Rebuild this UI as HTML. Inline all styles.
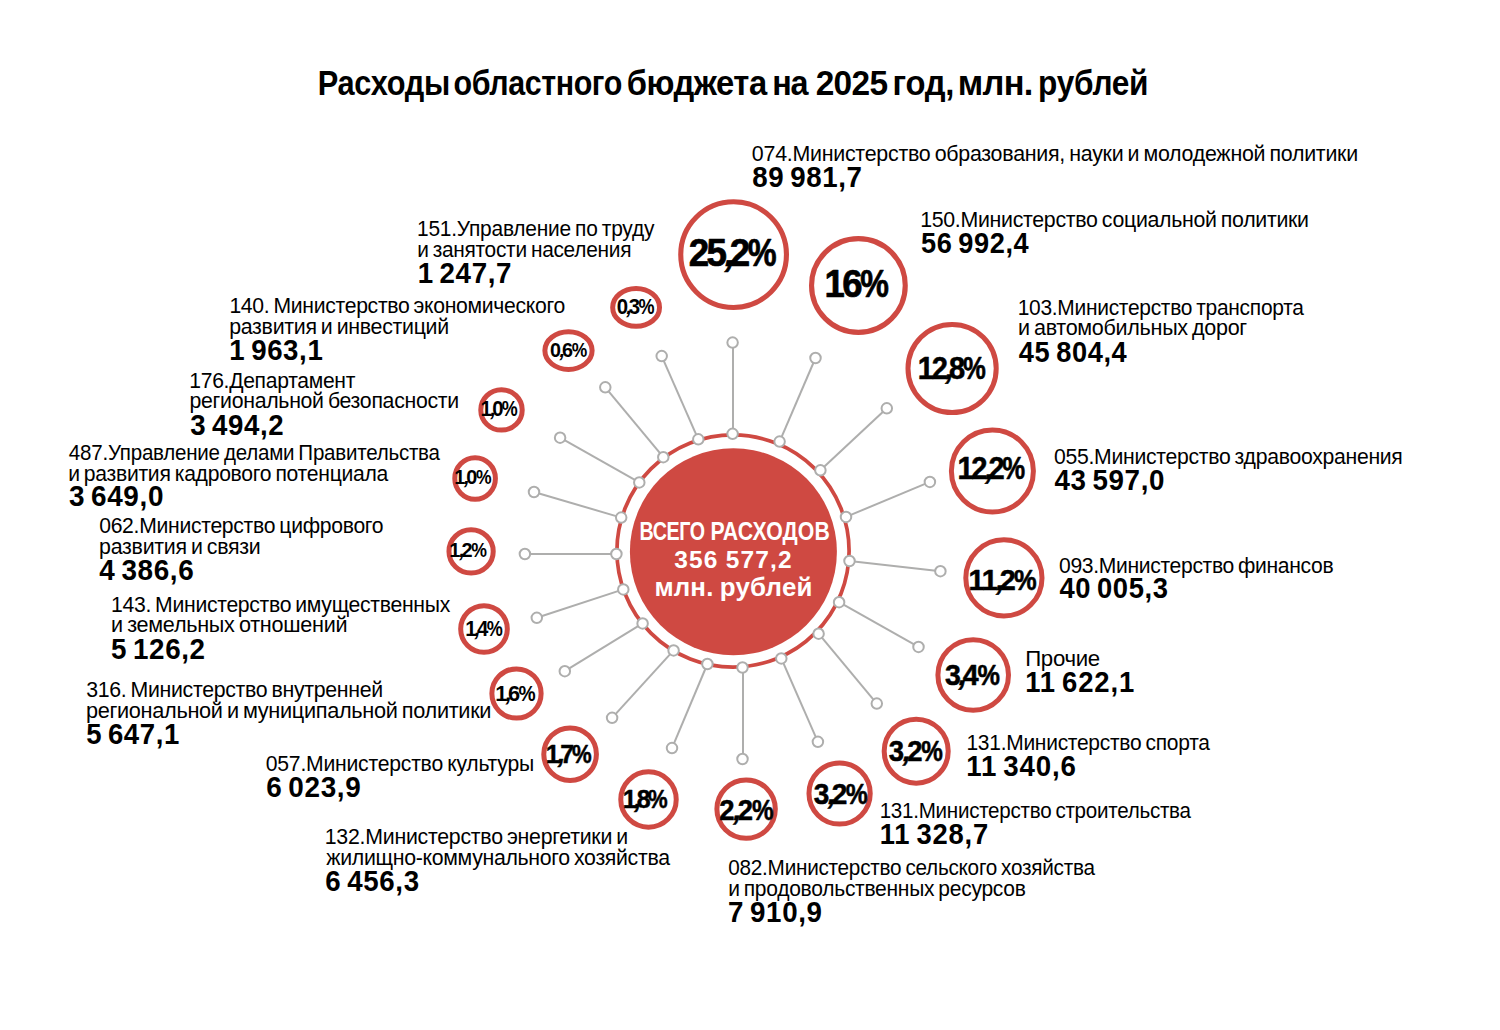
<!DOCTYPE html>
<html lang="ru"><head><meta charset="utf-8"><title>Расходы областного бюджета на 2025 год</title>
<style>html,body{margin:0;padding:0;background:#fff;}body{width:1500px;height:1030px;overflow:hidden;font-family:"Liberation Sans",sans-serif;}svg{display:block;}text{font-family:"Liberation Sans",sans-serif;fill:#000;white-space:pre;}.b{font-weight:bold;}</style></head><body>
<svg width="1500" height="1030" viewBox="0 0 1500 1030">
<rect width="1500" height="1030" fill="#fff"/>
<text class="b" transform="translate(317.74,95.20) scale(0.8912,1)" font-size="34.50" textLength="148.69" lengthAdjust="spacing">Расходы</text>
<text class="b" transform="translate(453.61,95.20) scale(0.8818,1)" font-size="34.50" textLength="191.27" lengthAdjust="spacing">областного</text>
<text class="b" transform="translate(626.69,95.20) scale(0.9487,1)" font-size="34.50" textLength="148.00" lengthAdjust="spacing">бюджета</text>
<text class="b" transform="translate(772.14,95.20) scale(0.9371,1)" font-size="34.50" textLength="38.92" lengthAdjust="spacing">на</text>
<text class="b" transform="translate(815.73,95.20) scale(0.9696,1)" font-size="34.50" textLength="74.58" lengthAdjust="spacing">2025</text>
<text class="b" transform="translate(892.61,95.20) scale(0.9487,1)" font-size="34.50" textLength="65.12" lengthAdjust="spacing">год,</text>
<text class="b" transform="translate(957.79,95.20) scale(0.9980,1)" font-size="34.50" textLength="75.73" lengthAdjust="spacing">млн.</text>
<text class="b" transform="translate(1038.11,95.20) scale(0.9168,1)" font-size="34.50" textLength="120.41" lengthAdjust="spacing">рублей</text>
<g stroke="#AEAEAD" stroke-width="2.0" fill="none">
<line x1="733.0" y1="433.8" x2="733.0" y2="342.6"/>
<line x1="779.6" y1="441.6" x2="815.5" y2="358.0"/>
<line x1="820.4" y1="470.3" x2="886.8" y2="408.3"/>
<line x1="846.0" y1="516.9" x2="929.9" y2="481.9"/>
<line x1="849.5" y1="561.0" x2="940.4" y2="571.2"/>
<line x1="839.1" y1="602.2" x2="918.5" y2="646.9"/>
<line x1="818.6" y1="633.7" x2="876.8" y2="703.6"/>
<line x1="781.3" y1="658.4" x2="817.9" y2="741.8"/>
<line x1="743.0" y1="667.5" x2="743.0" y2="759.0"/>
<line x1="707.4" y1="664.0" x2="672.0" y2="748.1"/>
<line x1="673.6" y1="650.4" x2="612.1" y2="717.8"/>
<line x1="642.6" y1="623.4" x2="564.8" y2="671.2"/>
<line x1="623.3" y1="589.4" x2="536.8" y2="617.8"/>
<line x1="616.4" y1="554.0" x2="524.9" y2="554.0"/>
<line x1="621.2" y1="517.6" x2="534.0" y2="492.0"/>
<line x1="639.3" y1="482.4" x2="560.1" y2="437.7"/>
<line x1="663.3" y1="457.2" x2="605.3" y2="387.3"/>
<line x1="698.3" y1="439.3" x2="661.7" y2="356.1"/>
</g>
<circle cx="733.0" cy="551.0" r="116.1" fill="none" stroke="#CF4942" stroke-width="3.7"/>
<circle cx="733.4" cy="551.8" r="103.5" fill="#CF4942"/>
<g stroke="#AEAEAD" stroke-width="2.0" fill="#fff">
<circle cx="732.6" cy="433.8" r="5.25"/><circle cx="732.6" cy="342.6" r="5.25"/>
<circle cx="779.6" cy="441.6" r="5.25"/><circle cx="815.5" cy="358.0" r="5.25"/>
<circle cx="820.4" cy="470.3" r="5.25"/><circle cx="886.8" cy="408.3" r="5.25"/>
<circle cx="846.0" cy="516.9" r="5.25"/><circle cx="929.9" cy="481.9" r="5.25"/>
<circle cx="849.5" cy="561.0" r="5.25"/><circle cx="940.4" cy="571.2" r="5.25"/>
<circle cx="839.1" cy="602.2" r="5.25"/><circle cx="918.5" cy="646.9" r="5.25"/>
<circle cx="818.6" cy="633.7" r="5.25"/><circle cx="876.8" cy="703.6" r="5.25"/>
<circle cx="781.3" cy="658.4" r="5.25"/><circle cx="817.9" cy="741.8" r="5.25"/>
<circle cx="742.5" cy="667.5" r="5.25"/><circle cx="742.5" cy="759.0" r="5.25"/>
<circle cx="707.4" cy="664.0" r="5.25"/><circle cx="672.0" cy="748.1" r="5.25"/>
<circle cx="673.6" cy="650.4" r="5.25"/><circle cx="612.1" cy="717.8" r="5.25"/>
<circle cx="642.6" cy="623.4" r="5.25"/><circle cx="564.8" cy="671.2" r="5.25"/>
<circle cx="623.3" cy="589.4" r="5.25"/><circle cx="536.8" cy="617.8" r="5.25"/>
<circle cx="616.4" cy="554.0" r="5.25"/><circle cx="524.9" cy="554.0" r="5.25"/>
<circle cx="621.2" cy="517.6" r="5.25"/><circle cx="534.0" cy="492.0" r="5.25"/>
<circle cx="639.3" cy="482.4" r="5.25"/><circle cx="560.1" cy="437.7" r="5.25"/>
<circle cx="663.3" cy="457.2" r="5.25"/><circle cx="605.3" cy="387.3" r="5.25"/>
<circle cx="698.3" cy="439.3" r="5.25"/><circle cx="661.7" cy="356.1" r="5.25"/>
</g>
<text class="b" style="fill:#fff" transform="translate(639.58,539.70) scale(0.7800,1)" font-size="25.20" textLength="83.90" lengthAdjust="spacing">ВСЕГО</text>
<text class="b" style="fill:#fff" transform="translate(710.47,539.70) scale(0.8447,1)" font-size="25.20" textLength="141.22" lengthAdjust="spacing">РАСХОДОВ</text>
<text class="b" style="fill:#fff" transform="translate(674.24,567.80) scale(1.0000,1)" font-size="24.50" textLength="117.45" lengthAdjust="spacing" word-spacing="-1.00">356 577,2</text>
<text class="b" style="fill:#fff" transform="translate(654.39,595.90) scale(1.0000,1)" font-size="25.90" textLength="158.02" lengthAdjust="spacing" word-spacing="-1.00">млн. рублей</text>
<ellipse cx="733.6" cy="254.6" rx="52.85" ry="52.85" fill="#fff" stroke="#CF4942" stroke-width="5.1"/>
<g class="b" font-size="38.68" stroke="#000" stroke-width="0.70" stroke-linejoin="round"><text transform="translate(688.81,266.10) scale(0.950,1)">2</text><text transform="translate(706.49,266.10) scale(0.950,1)">5</text><text transform="translate(723.12,266.10) skewX(-13)">,</text><text transform="translate(729.85,266.10) scale(0.950,1)">2</text><text transform="translate(747.86,266.10) scale(0.840,1)">%</text></g>
<ellipse cx="858.4" cy="285.5" rx="46.85" ry="46.85" fill="#fff" stroke="#CF4942" stroke-width="5.1"/>
<g class="b" font-size="38.40" stroke="#000" stroke-width="0.69" stroke-linejoin="round"><text transform="translate(824.50,297.00) scale(0.950,1)">1</text><text transform="translate(842.21,297.00) scale(0.950,1)">6</text><text transform="translate(860.17,297.00) scale(0.840,1)">%</text></g>
<ellipse cx="952.1" cy="368.5" rx="44.10" ry="44.10" fill="#fff" stroke="#CF4942" stroke-width="5.0"/>
<g class="b" font-size="30.59" stroke="#000" stroke-width="0.55" stroke-linejoin="round"><text transform="translate(917.87,379.05) scale(0.950,1)">1</text><text transform="translate(931.64,379.05) scale(0.950,1)">2</text><text transform="translate(944.00,379.05) skewX(-13)">,</text><text transform="translate(948.97,379.05) scale(0.950,1)">8</text><text transform="translate(963.03,379.05) scale(0.840,1)">%</text></g>
<ellipse cx="992.4" cy="471.0" rx="41.00" ry="41.00" fill="#fff" stroke="#CF4942" stroke-width="5.0"/>
<g class="b" font-size="30.66" stroke="#000" stroke-width="0.55" stroke-linejoin="round"><text transform="translate(957.47,479.15) scale(0.950,1)">1</text><text transform="translate(971.27,479.15) scale(0.950,1)">2</text><text transform="translate(983.65,479.15) skewX(-13)">,</text><text transform="translate(988.55,479.15) scale(0.950,1)">2</text><text transform="translate(1002.37,479.15) scale(0.840,1)">%</text></g>
<ellipse cx="1003.9" cy="577.9" rx="38.10" ry="38.10" fill="#fff" stroke="#CF4942" stroke-width="5.0"/>
<g class="b" font-size="30.37" stroke="#000" stroke-width="0.55" stroke-linejoin="round"><text transform="translate(968.58,589.75) scale(0.950,1)">1</text><text transform="translate(981.77,589.75) scale(0.950,1)">1</text><text transform="translate(994.70,589.75) skewX(-13)">,</text><text transform="translate(999.87,589.75) scale(0.950,1)">2</text><text transform="translate(1013.88,589.75) scale(0.840,1)">%</text></g>
<ellipse cx="973.2" cy="675.0" rx="35.30" ry="35.30" fill="#fff" stroke="#CF4942" stroke-width="5.0"/>
<g class="b" font-size="30.09" stroke="#000" stroke-width="0.54" stroke-linejoin="round"><text transform="translate(945.04,685.00) scale(0.950,1)">3</text><text transform="translate(957.36,685.00) skewX(-13)">,</text><text transform="translate(962.78,685.00) scale(0.950,1)">4</text><text transform="translate(977.39,685.00) scale(0.840,1)">%</text></g>
<ellipse cx="916.2" cy="751.2" rx="32.02" ry="32.02" fill="#fff" stroke="#CF4942" stroke-width="5.0"/>
<g class="b" font-size="28.94" stroke="#000" stroke-width="0.52" stroke-linejoin="round"><text transform="translate(888.77,760.60) scale(0.950,1)">3</text><text transform="translate(901.60,760.60) skewX(-13)">,</text><text transform="translate(907.24,760.60) scale(0.950,1)">2</text><text transform="translate(921.32,760.60) scale(0.840,1)">%</text></g>
<ellipse cx="839.6" cy="793.5" rx="30.62" ry="30.62" fill="#fff" stroke="#CF4942" stroke-width="5.0"/>
<g class="b" font-size="29.51" stroke="#000" stroke-width="0.53" stroke-linejoin="round"><text transform="translate(813.76,803.50) scale(0.950,1)">3</text><text transform="translate(826.42,803.50) skewX(-13)">,</text><text transform="translate(831.76,803.50) scale(0.950,1)">2</text><text transform="translate(845.71,803.50) scale(0.840,1)">%</text></g>
<ellipse cx="746.1" cy="809.1" rx="29.22" ry="29.22" fill="#fff" stroke="#CF4942" stroke-width="5.0"/>
<g class="b" font-size="28.94" stroke="#000" stroke-width="0.52" stroke-linejoin="round"><text transform="translate(719.24,820.15) scale(0.950,1)">2</text><text transform="translate(732.04,820.15) skewX(-13)">,</text><text transform="translate(737.76,820.15) scale(0.950,1)">2</text><text transform="translate(751.92,820.15) scale(0.840,1)">%</text></g>
<ellipse cx="648.5" cy="799.5" rx="27.72" ry="27.72" fill="#fff" stroke="#CF4942" stroke-width="5.0"/>
<g class="b" font-size="26.36" stroke="#000" stroke-width="0.47" stroke-linejoin="round"><text transform="translate(622.82,807.70) scale(0.950,1)">1</text><text transform="translate(633.08,807.70) skewX(-13)">,</text><text transform="translate(636.67,807.70) scale(0.950,1)">8</text><text transform="translate(648.09,807.70) scale(0.840,1)">%</text></g>
<ellipse cx="570.1" cy="754.2" rx="26.32" ry="26.32" fill="#fff" stroke="#CF4942" stroke-width="5.0"/>
<g class="b" font-size="26.36" stroke="#000" stroke-width="0.47" stroke-linejoin="round"><text transform="translate(545.82,762.50) scale(0.950,1)">1</text><text transform="translate(556.55,762.50) skewX(-13)">,</text><text transform="translate(560.33,762.50) scale(0.950,1)">7</text><text transform="translate(571.89,762.50) scale(0.840,1)">%</text></g>
<ellipse cx="516.5" cy="693.5" rx="24.62" ry="24.62" fill="#fff" stroke="#CF4942" stroke-width="5.0"/>
<g class="b" font-size="22.92" stroke="#000" stroke-width="0.00" stroke-linejoin="round"><text transform="translate(495.23,700.80) scale(0.950,1)">1</text><text transform="translate(504.61,700.80) skewX(-13)">,</text><text transform="translate(508.09,700.80) scale(0.950,1)">6</text><text transform="translate(518.38,700.80) scale(0.840,1)">%</text></g>
<ellipse cx="484.0" cy="629.0" rx="23.32" ry="23.32" fill="#fff" stroke="#CF4942" stroke-width="5.0"/>
<g class="b" font-size="21.49" stroke="#000" stroke-width="0.00" stroke-linejoin="round"><text transform="translate(465.21,635.80) scale(0.950,1)">1</text><text transform="translate(473.62,635.80) skewX(-13)">,</text><text transform="translate(476.94,635.80) scale(0.950,1)">4</text><text transform="translate(486.82,635.80) scale(0.840,1)">%</text></g>
<ellipse cx="471.1" cy="551.4" rx="22.12" ry="21.62" fill="#fff" stroke="#CF4942" stroke-width="5.0"/>
<g class="b" font-size="21.06" stroke="#000" stroke-width="0.00" stroke-linejoin="round"><text transform="translate(449.34,556.80) scale(0.950,1)">1</text><text transform="translate(458.15,556.80) skewX(-13)">,</text><text transform="translate(461.57,556.80) scale(0.950,1)">2</text><text transform="translate(471.13,556.80) scale(0.840,1)">%</text></g>
<ellipse cx="475.1" cy="478.5" rx="20.32" ry="20.72" fill="#fff" stroke="#CF4942" stroke-width="5.0"/>
<g class="b" font-size="20.92" stroke="#000" stroke-width="0.00" stroke-linejoin="round"><text transform="translate(454.15,483.90) scale(0.950,1)">1</text><text transform="translate(462.99,483.90) skewX(-13)">,</text><text transform="translate(466.37,483.90) scale(0.950,1)">0</text><text transform="translate(475.94,483.90) scale(0.840,1)">%</text></g>
<ellipse cx="501.5" cy="409.9" rx="20.72" ry="20.22" fill="#fff" stroke="#CF4942" stroke-width="5.0"/>
<g class="b" font-size="21.35" stroke="#000" stroke-width="0.00" stroke-linejoin="round"><text transform="translate(480.62,415.70) scale(0.950,1)">1</text><text transform="translate(489.23,415.70) skewX(-13)">,</text><text transform="translate(492.28,415.70) scale(0.950,1)">0</text><text transform="translate(501.63,415.70) scale(0.840,1)">%</text></g>
<ellipse cx="568.5" cy="350.6" rx="23.62" ry="18.82" fill="#fff" stroke="#CF4942" stroke-width="5.0"/>
<g class="b" font-size="20.77" stroke="#000" stroke-width="0.00" stroke-linejoin="round"><text transform="translate(549.91,356.80) scale(0.950,1)">0</text><text transform="translate(558.56,356.80) skewX(-13)">,</text><text transform="translate(562.11,356.80) scale(0.950,1)">6</text><text transform="translate(571.84,356.80) scale(0.840,1)">%</text></g>
<ellipse cx="636.1" cy="307.4" rx="23.42" ry="18.88" fill="#fff" stroke="#CF4942" stroke-width="5.0"/>
<g class="b" font-size="21.49" stroke="#000" stroke-width="0.00" stroke-linejoin="round"><text transform="translate(616.78,313.90) scale(0.950,1)">0</text><text transform="translate(625.32,313.90) skewX(-13)">,</text><text transform="translate(628.87,313.90) scale(0.950,1)">3</text><text transform="translate(638.52,313.90) scale(0.840,1)">%</text></g>
<text transform="translate(751.86,160.80) scale(0.9778,1)" font-size="21.90" textLength="620.07" lengthAdjust="spacing" word-spacing="-1.50">074.Министерство образования, науки и молодежной политики</text>
<text class="b" transform="translate(752.31,186.90) scale(0.9582,1)" font-size="28.90" textLength="114.49" lengthAdjust="spacing" word-spacing="-2.50">89 981,7</text>
<text transform="translate(920.18,226.70) scale(0.9750,1)" font-size="21.90" textLength="398.78" lengthAdjust="spacing" word-spacing="-1.50">150.Министерство социальной политики</text>
<text class="b" transform="translate(920.96,252.50) scale(0.9410,1)" font-size="28.90" textLength="114.54" lengthAdjust="spacing" word-spacing="-2.50">56 992,4</text>
<text transform="translate(1017.71,314.60) scale(0.9569,1)" font-size="21.90" textLength="299.09" lengthAdjust="spacing" word-spacing="-1.50">103.Министерство транспорта</text>
<text transform="translate(1018.01,335.30) scale(0.9846,1)" font-size="21.90" textLength="232.81" lengthAdjust="spacing" word-spacing="-1.50">и автомобильных дорог</text>
<text class="b" transform="translate(1018.79,361.70) scale(0.9423,1)" font-size="28.90" textLength="114.56" lengthAdjust="spacing" word-spacing="-2.50">45 804,4</text>
<text transform="translate(1053.97,463.80) scale(0.9682,1)" font-size="21.90" textLength="360.35" lengthAdjust="spacing" word-spacing="-1.50">055.Министерство здравоохранения</text>
<text class="b" transform="translate(1054.38,490.15) scale(0.9611,1)" font-size="28.90" textLength="114.52" lengthAdjust="spacing" word-spacing="-2.50">43 597,0</text>
<text transform="translate(1059.08,572.60) scale(0.9632,1)" font-size="21.90" textLength="285.04" lengthAdjust="spacing" word-spacing="-1.50">093.Министерство финансов</text>
<text class="b" transform="translate(1059.49,598.30) scale(0.9474,1)" font-size="28.90" textLength="114.52" lengthAdjust="spacing" word-spacing="-2.50">40 005,3</text>
<text transform="translate(1025.20,666.40) scale(1.0162,1)" font-size="21.90" textLength="73.79" lengthAdjust="spacing" word-spacing="-1.50">Прочие</text>
<text class="b" transform="translate(1025.27,692.20) scale(0.9514,1)" font-size="28.90" textLength="114.47" lengthAdjust="spacing" word-spacing="-2.50">11 622,1</text>
<text transform="translate(966.40,749.90) scale(0.9592,1)" font-size="21.90" textLength="253.96" lengthAdjust="spacing" word-spacing="-1.50">131.Министерство спорта</text>
<text class="b" transform="translate(966.25,775.90) scale(0.9588,1)" font-size="28.90" textLength="114.46" lengthAdjust="spacing" word-spacing="-2.50">11 340,6</text>
<text transform="translate(879.63,817.80) scale(0.9406,1)" font-size="21.90" textLength="331.04" lengthAdjust="spacing" word-spacing="-1.50">131.Министерство строительства</text>
<text class="b" transform="translate(879.78,843.70) scale(0.9474,1)" font-size="28.90" textLength="114.46" lengthAdjust="spacing" word-spacing="-2.50">11 328,7</text>
<text transform="translate(728.29,874.70) scale(0.9466,1)" font-size="21.90" textLength="387.40" lengthAdjust="spacing" word-spacing="-1.50">082.Министерство сельского хозяйства</text>
<text transform="translate(728.15,895.60) scale(0.9598,1)" font-size="21.90" textLength="310.23" lengthAdjust="spacing" word-spacing="-1.50">и продовольственных ресурсов</text>
<text class="b" transform="translate(728.11,921.60) scale(0.9599,1)" font-size="28.90" textLength="97.75" lengthAdjust="spacing" word-spacing="-2.50">7 910,9</text>
<text transform="translate(324.78,843.90) scale(0.9737,1)" font-size="21.90" textLength="311.59" lengthAdjust="spacing" word-spacing="-1.50">132.Министерство энергетики и</text>
<text transform="translate(326.31,864.60) scale(0.9729,1)" font-size="21.90" textLength="353.26" lengthAdjust="spacing" word-spacing="-1.50">жилищно-коммунального хозяйства</text>
<text class="b" transform="translate(325.37,890.50) scale(0.9588,1)" font-size="28.90" textLength="97.75" lengthAdjust="spacing" word-spacing="-2.50">6 456,3</text>
<text transform="translate(265.77,770.60) scale(0.9672,1)" font-size="21.90" textLength="277.52" lengthAdjust="spacing" word-spacing="-1.50">057.Министерство культуры</text>
<text class="b" transform="translate(266.27,796.70) scale(0.9664,1)" font-size="28.90" textLength="97.75" lengthAdjust="spacing" word-spacing="-2.50">6 023,9</text>
<text transform="translate(86.19,696.80) scale(0.9727,1)" font-size="21.90" textLength="305.32" lengthAdjust="spacing" word-spacing="-1.50">316. Министерство внутренней</text>
<text transform="translate(85.89,717.60) scale(0.9929,1)" font-size="21.90" textLength="408.53" lengthAdjust="spacing" word-spacing="-1.50">региональной и муниципальной политики</text>
<text class="b" transform="translate(86.15,743.70) scale(0.9525,1)" font-size="28.90" textLength="97.77" lengthAdjust="spacing" word-spacing="-2.50">5 647,1</text>
<text transform="translate(110.99,611.50) scale(0.9682,1)" font-size="21.90" textLength="350.40" lengthAdjust="spacing" word-spacing="-1.50">143. Министерство имущественных</text>
<text transform="translate(111.11,632.30) scale(0.9869,1)" font-size="21.90" textLength="239.54" lengthAdjust="spacing" word-spacing="-1.50">и земельных отношений</text>
<text class="b" transform="translate(111.04,658.60) scale(0.9613,1)" font-size="28.90" textLength="97.76" lengthAdjust="spacing" word-spacing="-2.50">5 126,2</text>
<text transform="translate(99.18,532.70) scale(0.9657,1)" font-size="21.90" textLength="294.51" lengthAdjust="spacing" word-spacing="-1.50">062.Министерство цифрового</text>
<text transform="translate(99.11,553.60) scale(0.9755,1)" font-size="21.90" textLength="165.64" lengthAdjust="spacing" word-spacing="-1.50">развития и связи</text>
<text class="b" transform="translate(99.28,579.60) scale(0.9657,1)" font-size="28.90" textLength="97.78" lengthAdjust="spacing" word-spacing="-2.50">4 386,6</text>
<text transform="translate(68.83,459.60) scale(0.9384,1)" font-size="21.90" textLength="395.55" lengthAdjust="spacing" word-spacing="-1.50">487.Управление делами Правительства</text>
<text transform="translate(68.14,480.60) scale(0.9654,1)" font-size="21.90" textLength="331.62" lengthAdjust="spacing" word-spacing="-1.50">и развития кадрового потенциала</text>
<text class="b" transform="translate(68.96,506.30) scale(0.9665,1)" font-size="28.90" textLength="97.76" lengthAdjust="spacing" word-spacing="-2.50">3 649,0</text>
<text transform="translate(189.30,387.60) scale(0.9637,1)" font-size="21.90" textLength="172.32" lengthAdjust="spacing" word-spacing="-1.50">176.Департамент</text>
<text transform="translate(189.52,408.00) scale(0.9718,1)" font-size="21.90" textLength="277.50" lengthAdjust="spacing" word-spacing="-1.50">региональной безопасности</text>
<text class="b" transform="translate(190.26,434.90) scale(0.9558,1)" font-size="28.90" textLength="97.77" lengthAdjust="spacing" word-spacing="-2.50">3 494,2</text>
<text transform="translate(229.39,313.00) scale(0.9667,1)" font-size="21.90" textLength="347.36" lengthAdjust="spacing" word-spacing="-1.50">140. Министерство экономического</text>
<text transform="translate(229.21,333.60) scale(0.9755,1)" font-size="21.90" textLength="225.49" lengthAdjust="spacing" word-spacing="-1.50">развития и инвестиций</text>
<text class="b" transform="translate(229.26,359.60) scale(0.9569,1)" font-size="28.90" textLength="97.73" lengthAdjust="spacing" word-spacing="-2.50">1 963,1</text>
<text transform="translate(417.01,236.00) scale(0.9549,1)" font-size="21.90" textLength="248.55" lengthAdjust="spacing" word-spacing="-1.50">151.Управление по труду</text>
<text transform="translate(417.16,256.60) scale(0.9528,1)" font-size="21.90" textLength="224.90" lengthAdjust="spacing" word-spacing="-1.50">и занятости населения</text>
<text class="b" transform="translate(417.65,283.00) scale(0.9597,1)" font-size="28.90" textLength="97.71" lengthAdjust="spacing" word-spacing="-2.50">1 247,7</text>
</svg></body></html>
